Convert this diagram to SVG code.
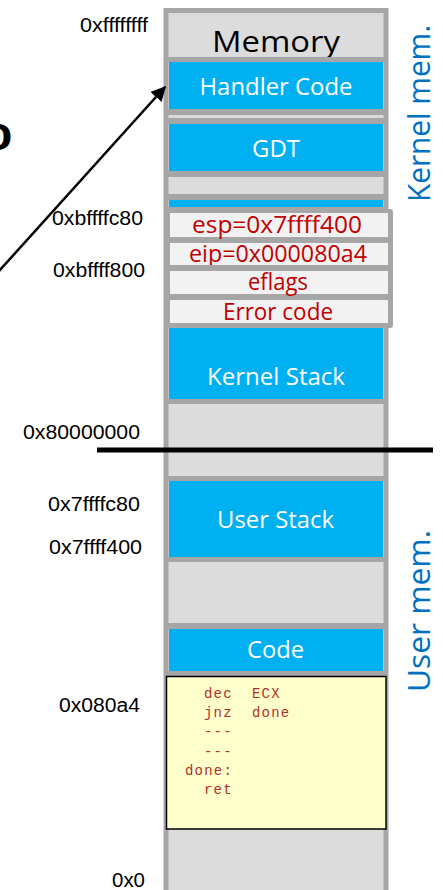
<svg xmlns="http://www.w3.org/2000/svg" width="443" height="890" viewBox="0 0 443 890">
<style>
.bar{fill:#a6a6a6}
.light{fill:#dcdcdc}
.blue{fill:#00b0f0}
.frame{fill:#f2f2f2}
.lbl{font-family:"Liberation Sans",Arial,sans-serif;font-size:19.5px;fill:#000}
.w{font-family:"Open Sans","Noto Sans",sans-serif;font-size:23px;fill:#fff;text-anchor:middle}
.r{font-family:"Open Sans","Noto Sans",sans-serif;font-size:23px;fill:#c00000;text-anchor:middle}
.side{font-family:"Open Sans","Noto Sans",sans-serif;font-size:31px;fill:#0070c0;text-anchor:middle}
.code{font-family:"Liberation Mono","Courier New",monospace;font-size:14px;fill:#b0302c;letter-spacing:1.2px}
</style>
<defs>
<marker id="ah" viewBox="0 0 10 10" refX="9" refY="5" markerWidth="6" markerHeight="6" orient="auto" markerUnits="strokeWidth">
<path d="M0,0 L10,5 L0,10 z" fill="#000"/>
</marker>
<clipPath id="clipEip"><rect x="170" y="243" width="218" height="22"/></clipPath>
</defs>

<g id="memory-column">
<rect x="166" y="10.5" width="220" height="882" class="light" stroke="#a6a6a6" stroke-width="5"/>
<text x="276" y="52" font-family="'Open Sans','Noto Sans',sans-serif" font-size="29" fill="#000" text-anchor="middle" textLength="128" lengthAdjust="spacingAndGlyphs">Memory</text>
<rect x="166" y="57" width="220" height="5" class="bar"/>
<rect x="166" y="109" width="220" height="6" class="bar"/>
<rect x="166" y="118" width="220" height="6" class="bar"/>
<rect x="166" y="171" width="220" height="6" class="bar"/>
<rect x="166" y="194" width="220" height="6" class="bar"/>
<rect x="166" y="207" width="220" height="4" class="bar"/>
<rect x="169" y="200" width="214" height="7" class="blue"/>
<rect x="166" y="399" width="220" height="5" class="bar"/>
<rect x="166" y="476" width="220" height="5" class="bar"/>
<rect x="166" y="557" width="220" height="5" class="bar"/>
<rect x="166" y="623" width="220" height="6" class="bar"/>
<rect x="166" y="671" width="220" height="5" class="bar"/>
</g>

<g id="handler-code">
<rect x="169" y="62" width="214" height="47" class="blue"/>
<text x="276" y="95" class="w" textLength="153" lengthAdjust="spacingAndGlyphs">Handler Code</text>
</g>

<g id="gdt">
<rect x="169" y="124" width="214" height="47" class="blue"/>
<text x="276" y="157" class="w" textLength="48" lengthAdjust="spacingAndGlyphs">GDT</text>
</g>

<g id="trap-frame">
<rect x="165" y="209" width="228" height="119" rx="3" class="bar"/>
<rect x="170" y="213" width="218" height="24" class="frame"/>
<rect x="170" y="243" width="218" height="22" class="frame"/>
<rect x="170" y="271" width="218" height="23" class="frame"/>
<rect x="170" y="300" width="218" height="23" class="frame"/>
<text x="277" y="233" class="r" textLength="170" lengthAdjust="spacingAndGlyphs">esp=0x7ffff400</text>
<text x="278" y="262" class="r" clip-path="url(#clipEip)" textLength="178" lengthAdjust="spacingAndGlyphs">eip=0x000080a4</text>
<text x="278" y="290" class="r" textLength="60" lengthAdjust="spacingAndGlyphs">eflags</text>
<text x="278" y="320" class="r" textLength="110" lengthAdjust="spacingAndGlyphs">Error code</text>
</g>

<g id="kernel-stack">
<rect x="169" y="328" width="214" height="71" class="blue"/>
<text x="276" y="385" class="w" textLength="138" lengthAdjust="spacingAndGlyphs">Kernel Stack</text>
</g>

<g id="user-stack">
<rect x="169" y="481" width="214" height="76" class="blue"/>
<text x="275.5" y="528" class="w" textLength="117" lengthAdjust="spacingAndGlyphs">User Stack</text>
</g>

<g id="code">
<rect x="169" y="629" width="214" height="42" class="blue"/>
<text x="275.5" y="658" class="w" textLength="57" lengthAdjust="spacingAndGlyphs">Code</text>
</g>

<g id="code-listing">
<rect x="166.5" y="676.5" width="219.5" height="152.5" fill="#ffffcc" stroke="#000" stroke-width="1.5"/>
<text class="code" x="204" y="698">dec</text><text class="code" x="252" y="698">ECX</text>
<text class="code" x="204" y="717">jnz</text><text class="code" x="252" y="717">done</text>
<text class="code" x="204" y="736">---</text>
<text class="code" x="204" y="756">---</text>
<text class="code" x="185" y="775">done:</text>
<text class="code" x="204" y="794">ret</text>
</g>

<g id="addresses">
<text class="lbl" x="148" y="32" text-anchor="end" textLength="68" lengthAdjust="spacingAndGlyphs">0xffffffff</text>
<text class="lbl" x="143" y="225" text-anchor="end" textLength="91" lengthAdjust="spacingAndGlyphs">0xbffffc80</text>
<text class="lbl" x="145" y="277" text-anchor="end" textLength="92" lengthAdjust="spacingAndGlyphs">0xbffff800</text>
<text class="lbl" x="140" y="439" text-anchor="end" textLength="117" lengthAdjust="spacingAndGlyphs">0x80000000</text>
<text class="lbl" x="140" y="511" text-anchor="end" textLength="92" lengthAdjust="spacingAndGlyphs">0x7ffffc80</text>
<text class="lbl" x="142" y="554" text-anchor="end" textLength="93" lengthAdjust="spacingAndGlyphs">0x7ffff400</text>
<text class="lbl" x="140" y="712" text-anchor="end" textLength="81" lengthAdjust="spacingAndGlyphs">0x080a4</text>
<text class="lbl" x="145" y="887" text-anchor="end" textLength="33" lengthAdjust="spacingAndGlyphs">0x0</text>
</g>

<g id="side-labels">
<text class="side" transform="translate(430,113.5) rotate(-90)" x="0" y="0" textLength="177" lengthAdjust="spacingAndGlyphs">Kernel mem.</text>
<text class="side" transform="translate(430,611) rotate(-90)" x="0" y="0" textLength="162" lengthAdjust="spacingAndGlyphs">User mem.</text>
</g>

<g id="partial-text">
<text x="-17" y="150" font-family="'Liberation Sans',Arial,sans-serif" font-size="48" font-weight="bold" fill="#000">o</text>
</g>

<g id="connectors">
<line x1="97" y1="450" x2="433" y2="450" stroke="#000" stroke-width="5"/>
<line x1="-5" y1="275.5" x2="165" y2="87" stroke="#000" stroke-width="2.5" marker-end="url(#ah)"/>
</g>
</svg>
